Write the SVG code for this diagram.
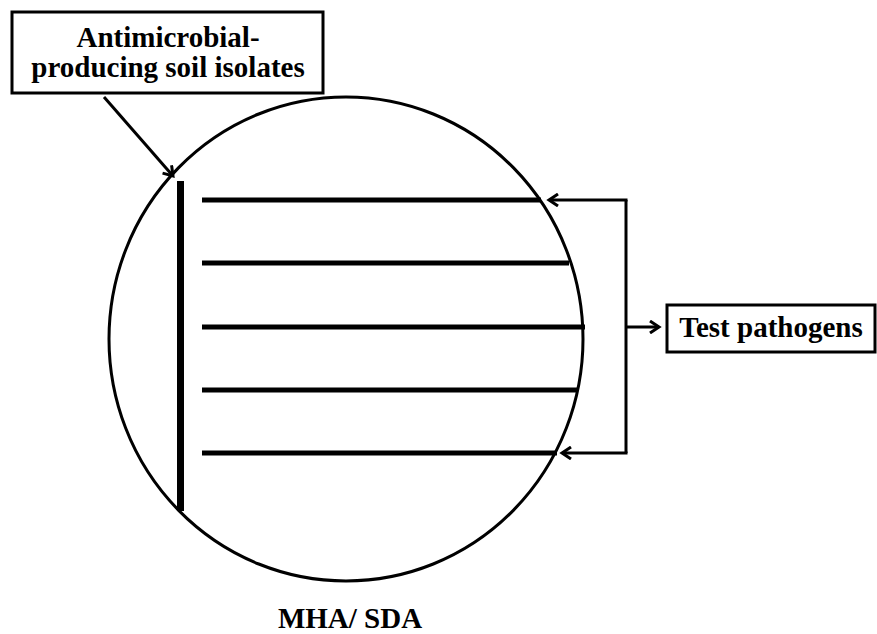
<svg xmlns="http://www.w3.org/2000/svg" width="877" height="634" viewBox="0 0 877 634">
<style>
.box{fill:#fff;stroke:#000;stroke-width:3}
.lbl{font-family:'Liberation Serif','Times New Roman','DejaVu Serif',serif;font-weight:700;font-size:29px;fill:#000;text-anchor:middle}
.con{fill:none;stroke:#000;stroke-width:3}
.streak{stroke:#000;stroke-width:5;stroke-linecap:butt}
</style>
<defs>
<marker id="ah" markerWidth="14" markerHeight="14" refX="11" refY="7" orient="auto" markerUnits="userSpaceOnUse">
<path d="M2,1 L11,7 L2,13" fill="none" stroke="#000" stroke-width="3"/>
</marker>
</defs>
<rect width="877" height="634" fill="#fff"/>
<g id="plate">
<ellipse cx="346" cy="339" rx="237" ry="242" fill="none" stroke="#000" stroke-width="3"/>
<line x1="180.5" y1="181" x2="180.5" y2="511" stroke="#000" stroke-width="7"/>
<line class="streak" x1="202" y1="200" x2="541" y2="200"/>
<line class="streak" x1="202" y1="263" x2="569" y2="263"/>
<line class="streak" x1="202" y1="327" x2="585" y2="327"/>
<line class="streak" x1="202" y1="390" x2="578" y2="390"/>
<line class="streak" x1="202" y1="453" x2="557" y2="453"/>
<text class="lbl" font-family="Liberation Serif, serif" x="350" y="628">MHA/ SDA</text>
</g>
<g id="isolates">
<rect class="box" x="12" y="12" width="311" height="81"/>
<text class="lbl" font-family="Liberation Serif, serif" x="168" y="47">Antimicrobial-</text>
<text class="lbl" font-family="Liberation Serif, serif" x="168" y="77">producing soil isolates</text>
</g>
<g id="pathogens">
<rect class="box" x="667" y="305" width="208" height="47"/>
<text class="lbl" font-family="Liberation Serif, serif" x="771" y="337">Test pathogens</text>
</g>
<g id="connectors">
<line class="con" x1="104" y1="97" x2="173" y2="176" marker-end="url(#ah)"/>
<path class="con" d="M626,200 L626,453"/>
<line class="con" x1="627.5" y1="200" x2="549" y2="200" marker-end="url(#ah)"/>
<line class="con" x1="627.5" y1="453" x2="562" y2="453" marker-end="url(#ah)"/>
<line class="con" x1="626" y1="327" x2="659" y2="327" marker-end="url(#ah)"/>
</g>
</svg>
